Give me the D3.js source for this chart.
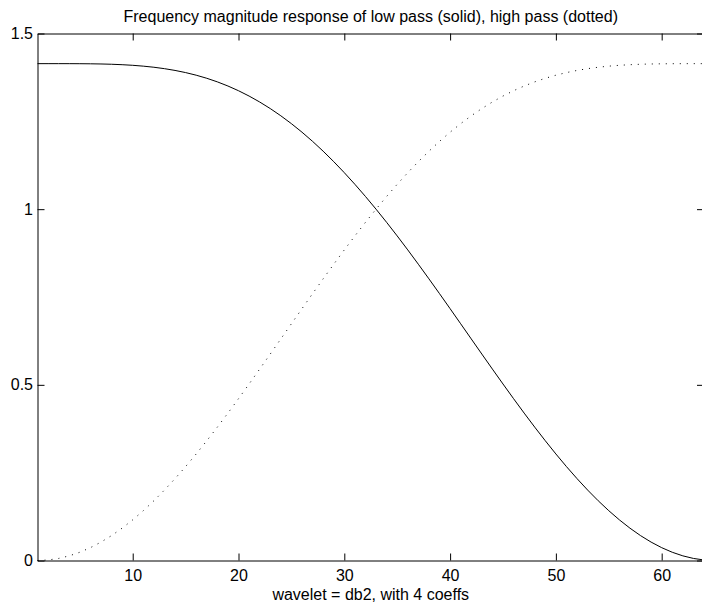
<!DOCTYPE html>
<html><head><meta charset="utf-8">
<script src="https://cdn.jsdelivr.net/npm/d3@7"></script>
<style>
body{margin:0;background:#fff}
svg{display:block}
text{font-family:"Liberation Sans",Arial,Helvetica,sans-serif;fill:#000}
</style>
</head><body>
<svg id="c" width="702" height="607"></svg>
<script>
const sampleIndex = [1,2,3,4,5,6,7,8,9,10,11,12,13,14,15,16,17,18,19,20,21,22,23,24,25,26,27,28,29,30,31,32,
  33,34,35,36,37,38,39,40,41,42,43,44,45,46,47,48,49,50,51,52,53,54,55,56,57,58,59,60,61,62,63,64];
const lowPass = [
  1.41421,1.41421,1.41420,1.41415,1.41402,1.41374,1.41324,1.41244,1.41122,1.40947,
  1.40709,1.40395,1.39992,1.39489,1.38873,1.38132,1.37255,1.36232,1.35053,1.33711,
  1.32197,1.30507,1.28636,1.26580,1.24338,1.21911,1.19298,1.16503,1.13531,1.10386,
  1.07077,1.03612,1.00000,0.96253,0.92382,0.88402,0.84325,0.80169,0.75948,0.71679,
  0.67379,0.63067,0.58761,0.54478,0.50238,0.46059,0.41960,0.37960,0.34076,0.30326,
  0.26728,0.23298,0.20053,0.17006,0.14174,0.11569,0.09204,0.07089,0.05236,0.03652,
  0.02346,0.01323,0.00589,0.00148];
const highPass = [
  0.00000,0.00148,0.00589,0.01323,0.02346,0.03652,0.05236,0.07089,0.09204,0.11569,
  0.14174,0.17006,0.20053,0.23298,0.26728,0.30326,0.34076,0.37960,0.41960,0.46059,
  0.50238,0.54478,0.58761,0.63067,0.67379,0.71679,0.75948,0.80169,0.84325,0.88402,
  0.92382,0.96253,1.00000,1.03612,1.07077,1.10386,1.13531,1.16503,1.19298,1.21911,
  1.24338,1.26580,1.28636,1.30507,1.32197,1.33711,1.35053,1.36232,1.37255,1.38132,
  1.38873,1.39489,1.39992,1.40395,1.40709,1.40947,1.41122,1.41244,1.41324,1.41374,
  1.41402,1.41415,1.41420,1.41421];
const xTickValues = [10,20,30,40,50,60];
const yTickValues = [0,0.5,1,1.5];
const yTickLabels = ["0","0.5","1","1.5"];
const titleText = "Frequency magnitude response of low pass (solid), high pass (dotted)";
const xLabelText = "wavelet = db2, with 4 coeffs";

const svg = d3.select("#c");
const x = d3.scaleLinear().domain([1,64]).range([37.5,704]);
const y = d3.scaleLinear().domain([0,1.5]).range([560.5,33.5]);
const FS = 16;

function styleAxis(g){
  g.selectAll("path.domain").attr("stroke","#000").attr("stroke-width",1);
  g.selectAll(".tick line").attr("stroke","#000").attr("stroke-width",1);
  g.selectAll(".tick text").attr("font-size",FS).attr("font-family",null);
  g.attr("font-family",null);
}

const gB = svg.append("g").attr("transform",`translate(0,${y(0)})`)
  .call(d3.axisBottom(x).tickValues(xTickValues).tickFormat(d3.format("d")).tickSizeInner(-7).tickSizeOuter(0));
styleAxis(gB);
gB.selectAll(".tick text").attr("y",20.5).attr("dy","0");

const gT = svg.append("g").attr("transform",`translate(0,${y(1.5)})`)
  .call(d3.axisTop(x).tickValues(xTickValues).tickFormat("").tickSizeInner(-7).tickSizeOuter(0));
styleAxis(gT);

const gL = svg.append("g").attr("transform",`translate(${x(1)},0)`)
  .call(d3.axisLeft(y).tickValues(yTickValues).tickFormat((d,i)=>yTickLabels[i]).tickSizeInner(-7).tickSizeOuter(0).tickPadding(4.5));
styleAxis(gL);

const gR = svg.append("g").attr("transform",`translate(${x(64)},0)`)
  .call(d3.axisRight(y).tickValues(yTickValues).tickFormat("").tickSizeInner(-7).tickSizeOuter(0));
styleAxis(gR);

const line = d3.line().x((d,i)=>x(sampleIndex[i])).y(d=>y(d));

svg.append("path").datum(lowPass).attr("d",line)
  .attr("fill","none").attr("stroke","#000").attr("stroke-width",1);
svg.append("path").datum(highPass).attr("d",line)
  .attr("fill","none").attr("stroke","#000").attr("stroke-width",1).attr("stroke-dasharray","1,6");

const cx = (x(1)+x(64))/2;
svg.append("text").attr("x",cx).attr("y",22).attr("text-anchor","middle").attr("font-size",FS).text(titleText);
svg.append("text").attr("x",cx).attr("y",600).attr("text-anchor","middle").attr("font-size",FS).text(xLabelText);
</script>
</body></html>
